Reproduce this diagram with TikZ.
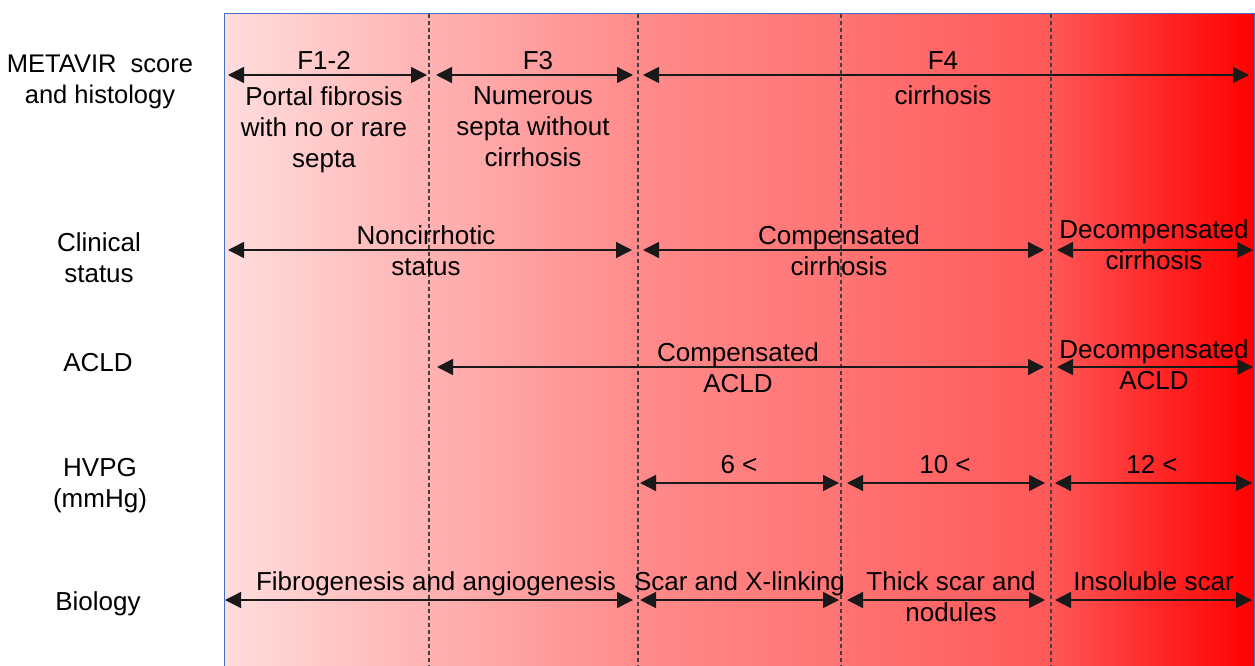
\documentclass[tikz,border=0pt]{standalone}
\usepackage{fontspec}
\setmainfont{Liberation Sans}
\usetikzlibrary{arrows.meta}
\definecolor{g0}{RGB}{255,221,221}
\definecolor{g1}{RGB}{255,178,178}
\definecolor{g2}{RGB}{255,139,139}
\definecolor{g3}{RGB}{255,115,115}
\definecolor{g4}{RGB}{255,88,88}
\definecolor{g5}{RGB}{255,42,42}
\definecolor{g6}{RGB}{255,0,0}
\definecolor{framec}{RGB}{68,114,196}
\definecolor{sepc}{RGB}{64,64,64}
\definecolor{arrowc}{RGB}{25,25,25}
\pgfdeclarehorizontalshading{redgrad}{100bp}{color(0bp)=(g0); color(25bp)=(g0); color(35bp)=(g1); color(45bp)=(g2); color(55bp)=(g3); color(65bp)=(g4); color(70bp)=(g5); color(75bp)=(g6); color(100bp)=(g6)}
\begin{document}
\begin{tikzpicture}[x=1pt,y=-1pt,
  lbl/.style={font=\fontsize{26}{31}\selectfont, align=center, inner sep=0pt, text=black},
  dim/.style={draw=arrowc, line width=1.4pt, {Triangle[length=16pt,width=16pt]}-{Triangle[length=16pt,width=16pt]}},
  sep/.style={draw=sepc, line width=1.1pt, dash pattern=on 4pt off 3pt},
  frame/.style={draw=framec, line width=1pt}]
\useasboundingbox (0,0) rectangle (1255,666);
% background panel
\shade[shading=redgrad] (224,14) rectangle (1255,667);
\draw[frame] (224,667) -- (224,14) -- (1254.5,14) -- (1254.5,667);
% dashed separators
\foreach \x/\n in {429/s1,638/s2,841/s3,1051/s4}{
  \coordinate (\n t) at (\x,14);
  \coordinate (\n b) at (\x,666);
  \draw[sep] (\n t) -- (\n b);
}
% row labels
\node[lbl,anchor=north,font=\fontsize{25.5}{31}\selectfont] (lm) at (100,54.5) {METAVIR\ \ score\\and histology};
\node[lbl,anchor=north] (lc) at (99,232) {Clinical\\status};
\node[lbl,anchor=base] (la) at (98,371) {ACLD};
\node[lbl,anchor=north] (lh) at (100,458) {HVPG\\(mmHg)};
\node[lbl,anchor=base] (lb) at (98,610) {Biology};
% row 1 arrows
\coordinate (a11) at (228,75);  \coordinate (a12) at (427,75);
\coordinate (a13) at (436,75);  \coordinate (a14) at (633,75);
\coordinate (a15) at (643,75);  \coordinate (a16) at (1249,75);
\draw[dim] (a11) -- (a12);
\draw[dim] (a13) -- (a14);
\draw[dim] (a15) -- (a16);
\node[lbl,anchor=base] (f12) at (324,70) {F1-2};
\node[lbl,anchor=base] (f3) at (538,70) {F3};
\node[lbl,anchor=base] (f4) at (943,70) {F4};
\node[lbl,anchor=north] (h1) at (324,86) {Portal fibrosis\\with no or rare\\septa};
\node[lbl,anchor=north] (h2) at (533,86) {Numerous\\septa without\\cirrhosis};
\node[lbl,anchor=base] (h3) at (943,105) {cirrhosis};
% row 2 arrows
\coordinate (a21) at (228,250);  \coordinate (a22) at (632,250);
\coordinate (a23) at (643,250);  \coordinate (a24) at (1044,250);
\coordinate (a25) at (1057,250); \coordinate (a26) at (1253,250);
\draw[dim] (a21) -- (a22);
\draw[dim] (a23) -- (a24);
\draw[dim] (a25) -- (a26);
\node[lbl,anchor=north] (c1) at (426,225) {Noncirrhotic\\status};
\node[lbl,anchor=north] (c2) at (839,225) {Compensated\\cirrhosis};
\node[lbl,anchor=north] (c3) at (1154,219) {Decompensated\\cirrhosis};
% row 3 arrows
\coordinate (a31) at (437,367);  \coordinate (a32) at (1044,367);
\coordinate (a33) at (1057,367); \coordinate (a34) at (1253,367);
\draw[dim] (a31) -- (a32);
\draw[dim] (a33) -- (a34);
\node[lbl,anchor=north] (d1) at (738,342) {Compensated\\ACLD};
\node[lbl,anchor=north] (d2) at (1154,339) {Decompensated\\ACLD};
% row 4 arrows
\coordinate (a41) at (640,483);  \coordinate (a42) at (839,483);
\coordinate (a43) at (847,483);  \coordinate (a44) at (1045,483);
\coordinate (a45) at (1055,483); \coordinate (a46) at (1252,483);
\draw[dim] (a41) -- (a42);
\draw[dim] (a43) -- (a44);
\draw[dim] (a45) -- (a46);
\node[lbl,anchor=base] (p1) at (739,473) {6 <};
\node[lbl,anchor=base] (p2) at (945,473) {10 <};
\node[lbl,anchor=base] (p3) at (1152,473) {12 <};
% row 5 arrows
\coordinate (a51) at (225,600);  \coordinate (a52) at (633,600);
\coordinate (a53) at (640,600);  \coordinate (a54) at (839,600);
\coordinate (a55) at (847,600);  \coordinate (a56) at (1045,600);
\coordinate (a57) at (1055,600); \coordinate (a58) at (1252,600);
\draw[dim] (a51) -- (a52);
\draw[dim] (a53) -- (a54);
\draw[dim] (a55) -- (a56);
\draw[dim] (a57) -- (a58);
\node[lbl,anchor=base] (b1) at (436,590) {Fibrogenesis and angiogenesis};
\node[lbl,anchor=base] (b2) at (739.5,590) {Scar and X-linking};
\node[lbl,anchor=north] (b3) at (951,571) {Thick scar and\\nodules};
\node[lbl,anchor=base] (b4) at (1153.5,590) {Insoluble scar};
\end{tikzpicture}
\end{document}
